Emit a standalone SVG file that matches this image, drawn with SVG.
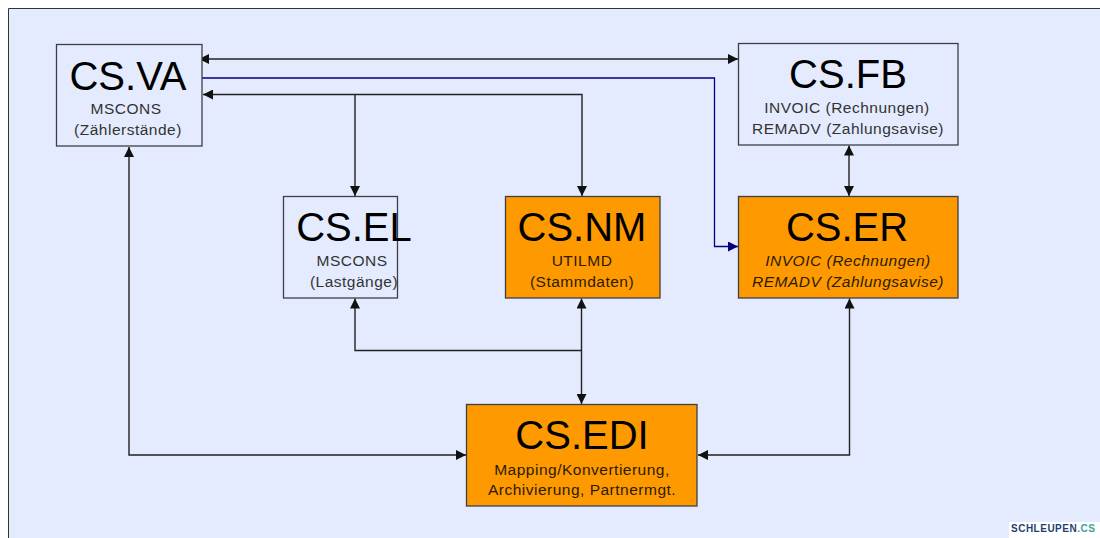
<svg xmlns="http://www.w3.org/2000/svg" width="1100" height="538" viewBox="0 0 1100 538">
<style>
.box{stroke:#3c4046;stroke-width:1.3}
.w{fill:#e4ebfe}
.o{fill:#ff9900}
text{font-family:"Liberation Sans",Arial,sans-serif;text-anchor:middle;fill:#111}
.t{font-size:40px;fill:#000}
.s{font-size:15.500px;letter-spacing:.5px;fill:#333}
.so{font-size:15.500px;letter-spacing:.5px;fill:#2a1c00}
.i{font-style:italic}
.c{fill:none;stroke:#222;stroke-width:1.4}
.b{fill:none;stroke:#000080;stroke-width:1.3}
</style>
<defs>
<marker id="a" markerUnits="userSpaceOnUse" markerWidth="11" markerHeight="10" refX="10" refY="5" orient="auto-start-reverse"><path d="M0 0L10 5L0 10z" fill="#111"/></marker>
<marker id="ab" markerUnits="userSpaceOnUse" markerWidth="11" markerHeight="10" refX="10" refY="5" orient="auto"><path d="M0 0L10 5L0 10z" fill="#000080"/></marker>
</defs>
<rect width="1100" height="538" fill="#fff"/>
<rect x="8" y="8.500" width="1092" height="529.500" fill="#e4ebfe"/>
<path d="M8.500 538V8.500H1100" fill="none" stroke="#333" stroke-width="1"/>
<g id="connectors">
<path class="c" d="M199 59H738" marker-start="url(#a)" marker-end="url(#a)"/>
<path class="c" d="M203 94.500H582V196" marker-start="url(#a)" marker-end="url(#a)"/>
<path class="c" d="M355 94.500V196" marker-end="url(#a)"/>
<path class="b" d="M202 78H714.500V246.500H738" marker-end="url(#ab)"/>
<path class="c" d="M129 147V455H466" marker-start="url(#a)" marker-end="url(#a)"/>
<path class="c" d="M355 298.500V350.500H582"  marker-start="url(#a)"/>
<path class="c" d="M581.500 298.500V404" marker-start="url(#a)" marker-end="url(#a)"/>
<path class="c" d="M698 455H849.500V298.500" marker-start="url(#a)" marker-end="url(#a)"/>
<path class="c" d="M849 145.500V196" marker-start="url(#a)" marker-end="url(#a)"/>
</g>
<g id="cs-va"><rect class="box w" x="56.500" y="44.500" width="145.500" height="101.500"/><text class="t" x="128" y="90">CS.VA</text><text class="s" x="126" y="114">MSCONS</text><text class="s" x="128" y="135">(Zählerstände)</text></g>
<g id="cs-fb"><rect class="box w" x="738.500" y="43.500" width="219.500" height="101.500"/><text class="t" x="848" y="88">CS.FB</text><text class="s" x="847" y="113">INVOIC (Rechnungen)</text><text class="s" x="848" y="134">REMADV (Zahlungsavise)</text></g>
<g id="cs-el"><rect class="box w" x="283.500" y="196.500" width="114" height="101.500"/><text class="t" x="354" y="241">CS.EL</text><text class="s" x="352" y="266">MSCONS</text><text class="s" x="354" y="287">(Lastgänge)</text></g>
<g id="cs-nm"><rect class="box o" x="505.500" y="196.500" width="154.500" height="101.500"/><text class="t" x="582" y="241">CS.NM</text><text class="so" x="582" y="266">UTILMD</text><text class="so" x="582" y="287">(Stammdaten)</text></g>
<g id="cs-er"><rect class="box o" x="738.500" y="196.500" width="219.500" height="101.500"/><text class="t" x="847" y="241">CS.ER</text><text class="so i" x="848" y="266">INVOIC (Rechnungen)</text><text class="so i" x="848" y="287">REMADV (Zahlungsavise)</text></g>
<g id="cs-edi"><rect class="box o" x="466.500" y="404.500" width="230.500" height="101.500"/><text class="t" x="582" y="449">CS.EDI</text><text class="so" x="582" y="475">Mapping/Konvertierung,</text><text class="so" x="582" y="495">Archivierung, Partnermgt.</text></g>
<g id="logo"><rect x="1009" y="522" width="91" height="16" fill="#fff"/><text x="1011" y="532" style="text-anchor:start;font-size:10px;font-weight:bold;letter-spacing:.5px;fill:#1f3f72">SCHLEUPEN<tspan fill="#3fa0a0">.CS</tspan></text></g>
</svg>
